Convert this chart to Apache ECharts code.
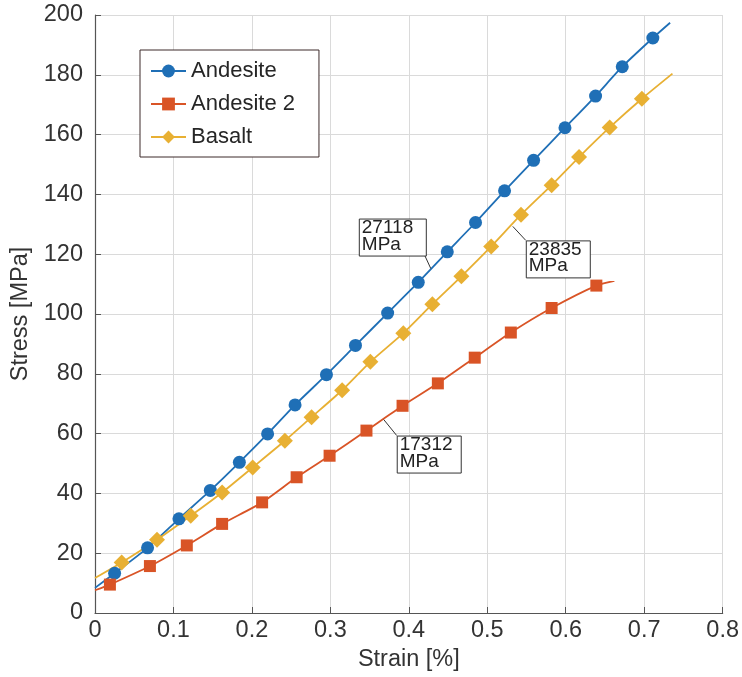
<!DOCTYPE html>
<html>
<head>
<meta charset="utf-8">
<script src="https://cdn.jsdelivr.net/npm/echarts@6/dist/echarts.min.js"></script>
<style>
  html, body { margin: 0; padding: 0; background: #fff; }
  #chart { width: 742px; height: 677px; }
</style>
</head>
<body>
<div id="chart"></div>
<script>
// first and last point of each curve are line ends only (no marker)
const andesiteStrain = [0, 0.025, 0.067, 0.107, 0.147, 0.184, 0.220, 0.255, 0.295, 0.332, 0.373, 0.412, 0.449, 0.485, 0.522, 0.559, 0.599, 0.638, 0.672, 0.711, 0.733];
const andesiteStress = [8.4, 13.3, 21.8, 31.5, 41.0, 50.4, 59.9, 69.6, 79.7, 89.5, 100.3, 110.6, 120.8, 130.6, 141.2, 151.4, 162.3, 172.9, 182.7, 192.3, 197.4];

const andesite2Strain = [0, 0.019, 0.070, 0.117, 0.162, 0.213, 0.257, 0.299, 0.346, 0.392, 0.437, 0.484, 0.530, 0.582, 0.639, 0.662];
const andesite2Stress = [7.6, 9.5, 15.7, 22.6, 29.8, 37.0, 45.4, 52.6, 61.0, 69.3, 76.8, 85.4, 93.8, 102.0, 109.5, 111.1];

const basaltStrain = [0, 0.034, 0.079, 0.122, 0.162, 0.201, 0.242, 0.276, 0.315, 0.351, 0.393, 0.430, 0.467, 0.505, 0.543, 0.582, 0.617, 0.656, 0.697, 0.736];
const basaltStress = [11.7, 16.9, 24.5, 32.5, 40.3, 48.7, 57.6, 65.5, 74.5, 84.0, 93.6, 103.3, 112.6, 122.6, 133.2, 143.1, 152.5, 162.4, 172.0, 180.4];

const seriesNames = ["Andesite", "Andesite 2", "Basalt"];

// modulus annotations: value and the point on the curve the leader points to
const moduli = [27118, 23835, 17312];
const modulusStrain = [0.428, 0.5325, 0.368];
const modulusStress = [115.2, 129.3, 64.7];

const FONT = "'Liberation Sans', Arial, Helvetica, sans-serif";

function toData(xs, ys) {
  return xs.map((x, i) => {
    let item = { value: [x, ys[i]] };
    if (i === 0 || i === xs.length - 1) item.symbol = "none";
    return item;
  });
}

const chart = echarts.init(document.getElementById("chart"));

const option = {
  backgroundColor: "#fff",
  animation: false,
  textStyle: { fontFamily: FONT },
  grid: { left: 95, right: 17, top: 15, bottom: 64 },
  legend: {
    orient: "vertical",
    left: 140,
    top: 50,
    padding: [10, 24, 9, 10],
    itemGap: 11,
    itemWidth: 35,
    itemHeight: 16,
    backgroundColor: "#fff",
    borderColor: "#3d2b2b",
    borderWidth: 1,
    borderRadius: 0,
    textStyle: { fontSize: 22, color: "#262626", fontFamily: FONT },
    data: seriesNames
  },
  xAxis: {
    type: "value",
    min: 0,
    max: 0.8,
    interval: 0.1,
    name: "Strain [%]",
    nameLocation: "middle",
    nameGap: 35,
    nameTextStyle: { fontSize: 23.5, color: "#333", fontFamily: FONT },
    axisLine: { show: true, lineStyle: { color: "#555", width: 1.2 } },
    axisTick: { show: true, inside: true, length: 6, lineStyle: { color: "#555" } },
    axisLabel: { fontSize: 23.5, color: "#333", margin: 6 },
    splitLine: { show: true, lineStyle: { color: "#dadada", width: 1 } }
  },
  yAxis: {
    type: "value",
    min: 0,
    max: 200,
    interval: 20,
    name: "Stress [MPa]",
    nameLocation: "middle",
    nameGap: 62,
    nameTextStyle: { fontSize: 23.5, color: "#333", fontFamily: FONT },
    axisLine: { show: true, lineStyle: { color: "#555", width: 1.2 } },
    axisTick: { show: true, inside: true, length: 6, lineStyle: { color: "#555" } },
    axisLabel: { fontSize: 23.5, color: "#333", margin: 12 },
    splitLine: { show: true, lineStyle: { color: "#dadada", width: 1 } }
  },
  series: [
    {
      name: seriesNames[0],
      type: "line",
      smooth: 0.2,
      symbol: "circle",
      symbolSize: 13,
      showAllSymbol: true,
      color: "#1f6fb6",
      lineStyle: { width: 1.8 },
      data: toData(andesiteStrain, andesiteStress)
    },
    {
      name: seriesNames[1],
      type: "line",
      smooth: 0.2,
      symbol: "rect",
      symbolSize: 12,
      showAllSymbol: true,
      color: "#d95426",
      lineStyle: { width: 1.8 },
      data: toData(andesite2Strain, andesite2Stress)
    },
    {
      name: seriesNames[2],
      type: "line",
      smooth: 0.2,
      symbol: "diamond",
      symbolSize: 16,
      showAllSymbol: true,
      color: "#e8b033",
      lineStyle: { width: 1.8 },
      data: toData(basaltStrain, basaltStress)
    }
  ]
};

chart.setOption(option);

// box offsets relative to the anchor point on the curve (px)
const boxLayout = [
  { dx: -72, dy: -50, w: 67, h: 37, lx: -6, ly: -13 },
  { dx: 13, dy: 14, w: 64, h: 37, lx: 13, ly: 14 },
  { dx: 13, dy: 16, w: 64, h: 37, lx: 13, ly: 16 }
];

const graphics = [];
moduli.forEach((m, i) => {
  const p = chart.convertToPixel({ gridIndex: 0 }, [modulusStrain[i], modulusStress[i]]);
  const b = boxLayout[i];
  graphics.push({
    type: "line",
    z: 100,
    shape: { x1: p[0], y1: p[1], x2: p[0] + b.lx, y2: p[1] + b.ly },
    style: { stroke: "#333", lineWidth: 1 }
  });
  graphics.push({
    type: "rect",
    z: 100,
    shape: { x: p[0] + b.dx + 0.5, y: p[1] + b.dy + 0.5, width: b.w, height: b.h },
    style: { fill: "#fff", stroke: "#333", lineWidth: 1 }
  });
  graphics.push({
    type: "text",
    z: 101,
    x: p[0] + b.dx + 3,
    y: p[1] + b.dy + 1,
    style: {
      text: m + "\nMPa",
      font: "19px " + FONT,
      lineHeight: 16.5,
      fill: "#222",
      verticalAlign: "top"
    }
  });
});

chart.setOption({ graphic: graphics });
</script>
</body>
</html>
